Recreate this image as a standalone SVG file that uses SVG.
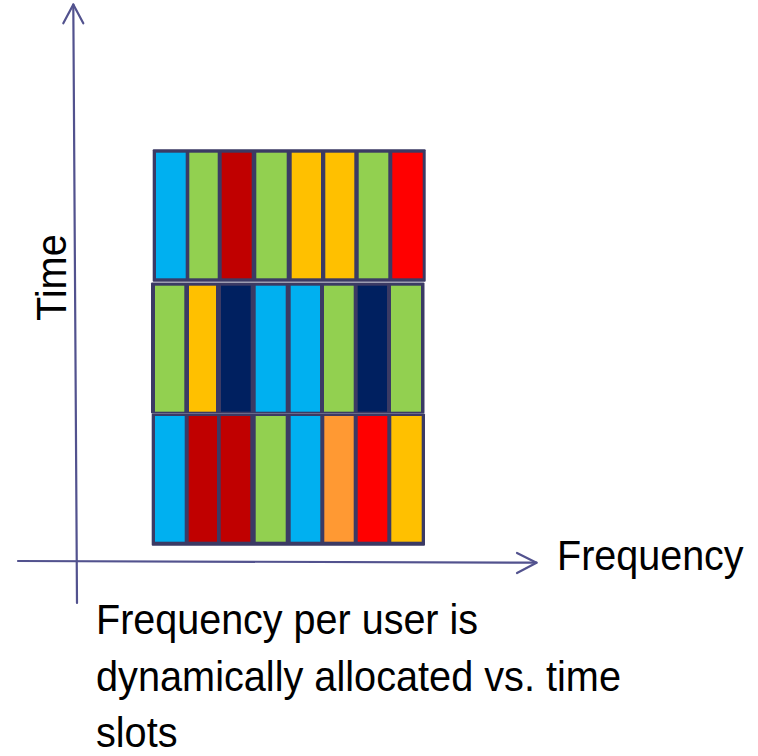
<svg xmlns="http://www.w3.org/2000/svg" width="758" height="756" viewBox="0 0 758 756">
  <style>
    .frame { fill: #3b3a64; }
    .axis { fill: none; stroke: #52528e; stroke-width: 2.2; stroke-linecap: round; stroke-linejoin: round; }
    .lbl { font-family: "Liberation Sans", Arial, sans-serif; font-size: 42.5px; fill: #000; }
    .b { fill: #00b0f0; }
    .g { fill: #92d050; }
    .dr { fill: #c00000; }
    .y { fill: #ffc000; }
    .r { fill: #ff0000; }
    .n { fill: #002060; }
    .o { fill: #ff9933; }
  </style>
  <rect width="758" height="756" fill="#ffffff"/>

  <!-- time / frequency axes -->
  <g id="connectors">
    <path class="axis" d="M73.3 4.5 L77 603"/>
    <path class="axis" d="M63.3 23.3 L73.3 4.5 L83.3 23.3"/>
    <path class="axis" d="M18 561 L536.5 562.7"/>
    <path class="axis" d="M517 553 L536.5 562.7 L517 573"/>
  </g>

  <!-- slot 3 (top) -->
  <g id="slot-3">
    <rect class="frame" x="152.7" y="149.3" width="273" height="132.4" rx="1"/>
    <rect class="b"  x="156"   y="152.7" width="29.7" height="125.6"/>
    <rect class="g"  x="189.3" y="152.7" width="28.4" height="125.6"/>
    <rect class="dr" x="221.7" y="152.7" width="30"   height="125.6"/>
    <rect class="g"  x="256.3" y="152.7" width="30.4" height="125.6"/>
    <rect class="y"  x="291.7" y="152.7" width="29.3" height="125.6"/>
    <rect class="y"  x="325.3" y="152.7" width="29"   height="125.6"/>
    <rect class="g"  x="358.7" y="152.7" width="29.6" height="125.6"/>
    <rect class="r"  x="392.3" y="152.7" width="30.4" height="125.6"/>
  </g>

  <!-- slot 2 (middle) -->
  <g id="slot-2">
    <rect class="frame" x="151" y="282.5" width="273.5" height="131" rx="1"/>
    <rect class="g"  x="155"   y="285.7" width="29.3" height="126"/>
    <rect class="y"  x="189"   y="285.7" width="27"   height="126"/>
    <rect class="n"  x="221"   y="285.7" width="29.7" height="126"/>
    <rect class="b"  x="255.7" y="285.7" width="30"   height="126"/>
    <rect class="b"  x="290.7" y="285.7" width="29.3" height="126"/>
    <rect class="g"  x="324"   y="285.7" width="29.7" height="126"/>
    <rect class="n"  x="357.7" y="285.7" width="29.3" height="126"/>
    <rect class="g"  x="391"   y="285.7" width="30"   height="126"/>
  </g>

  <!-- slot 1 (bottom) -->
  <g id="slot-1">
    <rect class="frame" x="151.7" y="413.5" width="273.3" height="132.2" rx="1"/>
    <rect class="b"  x="155"   y="416" width="29.7" height="125.7"/>
    <rect class="dr" x="188.7" y="416" width="28.3" height="125.7"/>
    <rect class="dr" x="220.7" y="416" width="29.6" height="125.7"/>
    <rect class="g"  x="255.7" y="416" width="30"   height="125.7"/>
    <rect class="b"  x="290.7" y="416" width="29.6" height="125.7"/>
    <rect class="o"  x="324.3" y="416" width="29.4" height="125.7"/>
    <rect class="r"  x="357.7" y="416" width="29.6" height="125.7"/>
    <rect class="y"  x="391.3" y="416" width="30.4" height="125.7"/>
  </g>

  <!-- axis labels and caption -->
  <g id="labels">
    <text class="lbl" transform="translate(65.7 321) rotate(-90)" x="0" y="0" textLength="86.7" lengthAdjust="spacingAndGlyphs">Time</text>
    <text class="lbl" x="557" y="569.5" textLength="186.6" lengthAdjust="spacingAndGlyphs">Frequency</text>
    <text class="lbl" x="96" y="634" textLength="382" lengthAdjust="spacingAndGlyphs">Frequency per user is</text>
    <text class="lbl" x="96" y="690.5" textLength="525" lengthAdjust="spacingAndGlyphs">dynamically allocated vs. time</text>
    <text class="lbl" x="96" y="747" textLength="81.5" lengthAdjust="spacingAndGlyphs">slots</text>
  </g>
</svg>
